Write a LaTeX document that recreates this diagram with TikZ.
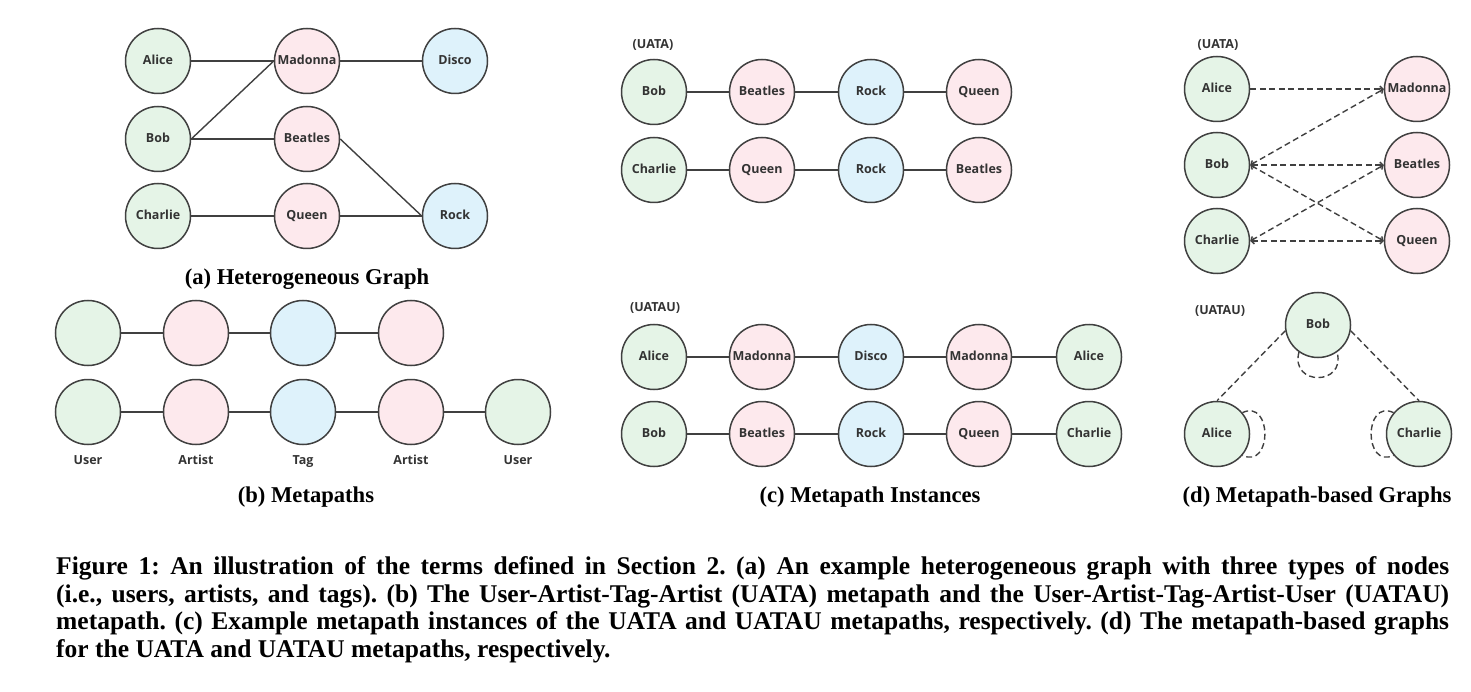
\documentclass[tikz,border=0pt]{standalone}
\usepackage{fontspec}
\setmainfont{Liberation Serif}
\newfontfamily\labelfont{Open Sans}
\usetikzlibrary{arrows.meta,backgrounds}
\tikzset{>={Straight Barb[length=3pt,width=6pt]}}
\definecolor{usergreen}{RGB}{229,244,231}
\definecolor{artistpink}{RGB}{253,233,237}
\definecolor{tagblue}{RGB}{222,242,251}
\definecolor{ringgray}{RGB}{64,64,64}
\colorlet{labelgray}{black!80}
\tikzstyle{entity}=[circle,draw=ringgray,line width=1.5pt,minimum size=65pt,inner sep=0pt,
  text height=9pt,text depth=2.5pt,
  text=labelgray,font={\labelfont\bfseries\fontsize{12.5}{14}\selectfont}]
\tikzstyle{user}=[entity,fill=usergreen]
\tikzstyle{artist}=[entity,fill=artistpink]
\tikzstyle{tag}=[entity,fill=tagblue]
\tikzstyle{link}=[line width=1.4pt,ringgray]
\tikzstyle{metalink}=[link,dash pattern=on 6pt off 3.5pt]
\tikzstyle{typetext}=[anchor=base,inner sep=0pt,text=labelgray,font={\labelfont\bfseries\fontsize{12.5}{14}\selectfont}]
\tikzstyle{subcap}=[anchor=base,inner sep=0pt,font={\bfseries\fontsize{22.6}{27}\selectfont}]
\tikzstyle{capline}=[anchor=base west,inner sep=0pt,font={\bfseries\fontsize{25.5}{28}\selectfont\frenchspacing}]
\newcommand\capw{1393pt}

\begin{document}
\begin{tikzpicture}[x=1pt,y=-1pt]
  \useasboundingbox (0,0) rectangle (1471,692);

  % (a) HETEROGENEOUS GRAPH
  \node[user]   (AL) at (158, 61) {Alice};
  \node[artist] (MA) at (307, 61) {Madonna};
  \node[tag]    (DI) at (455, 61) {Disco};
  \node[user]   (BO) at (158,139) {Bob};
  \node[artist] (BE) at (307,139) {Beatles};
  \node[user]   (CH) at (158,216) {Charlie};
  \node[artist] (QU) at (307,216) {Queen};
  \node[tag]    (RO) at (455,216) {Rock};
  \draw[link] (AL.east) -- (MA.west);
  \draw[link] (MA.east) -- (DI.west);
  \draw[link] (BO.east) -- (MA.west);
  \draw[link] (BO.east) -- (BE.west);
  \draw[link] (BE.east) -- (RO.west);
  \draw[link] (CH.east) -- (QU.west);
  \draw[link] (QU.east) -- (RO.west);
  \node[subcap] (capa) at (307,285) {(a) Heterogeneous Graph};

  % (b) METAPATHS
  \node[user]   (P1) at ( 88,333) {};
  \node[artist] (P2) at (196,333) {};
  \node[tag]    (P3) at (303,333) {};
  \node[artist] (P4) at (411,333) {};
  \node[user]   (Q1) at ( 88,412) {};
  \node[artist] (Q2) at (196,412) {};
  \node[tag]    (Q3) at (303,412) {};
  \node[artist] (Q4) at (411,412) {};
  \node[user]   (Q5) at (518,412) {};
  \draw[link] (P1) -- (P2) -- (P3) -- (P4);
  \draw[link] (Q1) -- (Q2) -- (Q3) -- (Q4) -- (Q5);
  \node[typetext] (T1) at ( 88,464) {User};
  \node[typetext] (T2) at (196,464) {Artist};
  \node[typetext] (T3) at (303,464) {Tag};
  \node[typetext] (T4) at (411,464) {Artist};
  \node[typetext] (T5) at (518,464) {User};
  \node[subcap] (capb) at (306,502) {(b) Metapaths};

  % (c) METAPATH INSTANCES
  \node[typetext] (uata) at (653,49) {(UATA)};
  \node[user]   (C1) at ( 654,92) {Bob};
  \node[artist] (C2) at ( 762,92) {Beatles};
  \node[tag]    (C3) at ( 871,92) {Rock};
  \node[artist] (C4) at ( 979,92) {Queen};
  \node[user]   (D1) at ( 654,170) {Charlie};
  \node[artist] (D2) at ( 762,170) {Queen};
  \node[tag]    (D3) at ( 871,170) {Rock};
  \node[artist] (D4) at ( 979,170) {Beatles};
  \draw[link] (C1) -- (C2) -- (C3) -- (C4);
  \draw[link] (D1) -- (D2) -- (D3) -- (D4);
  \node[typetext] (uatau) at (655,312) {(UATAU)};
  \node[user]   (E1) at ( 654,357) {Alice};
  \node[artist] (E2) at ( 762,357) {Madonna};
  \node[tag]    (E3) at ( 871,357) {Disco};
  \node[artist] (E4) at ( 979,357) {Madonna};
  \node[user]   (E5) at (1089,357) {Alice};
  \node[user]   (F1) at ( 654,434) {Bob};
  \node[artist] (F2) at ( 762,434) {Beatles};
  \node[tag]    (F3) at ( 871,434) {Rock};
  \node[artist] (F4) at ( 979,434) {Queen};
  \node[user]   (F5) at (1089,434) {Charlie};
  \draw[link] (E1) -- (E2) -- (E3) -- (E4) -- (E5);
  \draw[link] (F1) -- (F2) -- (F3) -- (F4) -- (F5);
  \node[subcap] (capc) at (870,502) {(c) Metapath Instances};

  % (d) METAPATH-BASED GRAPHS
  \node[typetext] (guata) at (1218,49) {(UATA)};
  \node[user]   (GA) at (1217, 89) {Alice};
  \node[artist] (GM) at (1417, 89) {Madonna};
  \node[user]   (GB) at (1217,165) {Bob};
  \node[artist] (GE) at (1417,165) {Beatles};
  \node[user]   (GC) at (1217,241) {Charlie};
  \node[artist] (GQ) at (1417,241) {Queen};
  \draw[metalink,->]  (GA.east) -- (GM.west);
  \draw[metalink,<->] (GB.east) -- (GM.west);
  \draw[metalink,<->] (GB.east) -- (GE.west);
  \draw[metalink,<->] (GB.east) -- (GQ.west);
  \draw[metalink,<->] (GC.east) -- (GE.west);
  \draw[metalink,<->] (GC.east) -- (GQ.west);
  \node[typetext] (guatau) at (1220,315) {(UATAU)};
  \node[user] (HB) at (1318,325) {Bob};
  \node[user] (HA) at (1217,434) {Alice};
  \node[user] (HC) at (1419,434) {Charlie};
  \draw[metalink] (HB.190) -- (HA.north);
  \draw[metalink] (HB.-10) -- (HC.north);
  \begin{scope}[on background layer] % self loops, behind the nodes (y axis points down)
    \draw[metalink] (HB.-125) .. controls +(105:35) and +(75:35) .. (HB.-55);
    \draw[metalink] (HA.40) .. controls +(-25:33) and +(25:33) .. (HA.-40);
    \draw[metalink] (HC.140) .. controls +(205:33) and +(155:33) .. (HC.220);
  \end{scope}
  \node[subcap] (capd) at (1317,502) {(d) Metapath-based Graphs};

  % CAPTION
  \node[capline] (cap1) at (56,574.5) {\makebox[\capw][s]{Figure 1: An illustration of the terms defined in Section 2. (a) An example heterogeneous graph with three types of nodes}};
  \node[capline] (cap2) at (56,602.2) {\makebox[\capw][s]{(i.e., users, artists, and tags). (b) The User-Artist-Tag-Artist (UATA) metapath and the User-Artist-Tag-Artist-User (UATAU)}};
  \node[capline] (cap3) at (56,629.9) {\makebox[\capw][s]{metapath. (c) Example metapath instances of the UATA and UATAU metapaths, respectively. (d) The metapath-based graphs}};
  \node[capline] (cap4) at (56,657.6) {for the UATA and UATAU metapaths, respectively.};
\end{tikzpicture}
\end{document}
